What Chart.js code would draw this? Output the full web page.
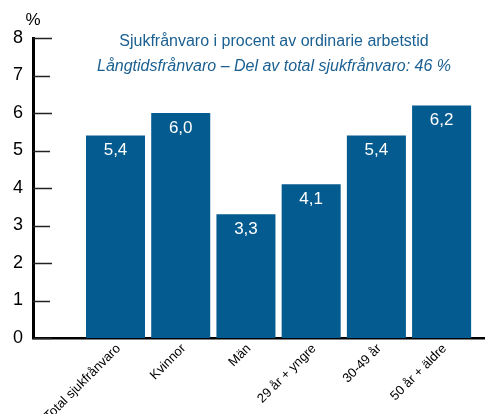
<!DOCTYPE html>
<html>
<head>
<meta charset="utf-8">
<script src="https://cdn.jsdelivr.net/npm/chart.js@4"></script>
<style>
  html, body { margin: 0; padding: 0; background: #fff; }
  #wrap { width: 485px; height: 414px; }
</style>
</head>
<body>
<div id="wrap"><canvas id="Bar-Chart" width="485" height="414"></canvas></div>
<script>
let labels1 = ['Total sjukfrånvaro', 'Kvinnor', 'Män', '29 år + yngre', '30-49 år', '50 år + äldre'];
let data1 = [5.4, 6.0, 3.3, 4.1, 5.4, 6.2];
let yTicks = [0, 1, 2, 3, 4, 5, 6, 7, 8];
let title1 = 'Sjukfrånvaro i procent av ordinarie arbetstid';
let title2 = 'Långtidsfrånvaro – Del av total sjukfrånvaro: 46 %';

let barColor = '#035b8f';
let textBlue = '#1b6092';

// bar labels, inward tick marks, "%" and the two title lines
let extras = {
  id: 'extras',
  afterDatasetsDraw(chart) {
    let ctx = chart.ctx;
    let y = chart.scales.y;
    let area = chart.chartArea;
    ctx.save();

    // tick marks pointing into the plot
    ctx.strokeStyle = '#222';
    ctx.lineWidth = 1.5;
    yTicks.forEach(v => {
      let py = Math.round(y.getPixelForValue(v)) + 0.5;
      ctx.beginPath();
      ctx.moveTo(area.left, py);
      ctx.lineTo(area.left + (v % 2 === 0 ? 19 : 17), py);
      ctx.stroke();
    });

    // value labels inside bars
    ctx.fillStyle = '#fff';
    ctx.font = '17px "Liberation Sans", Arial, sans-serif';
    ctx.textAlign = 'center';
    ctx.textBaseline = 'middle';
    chart.getDatasetMeta(0).data.forEach((bar, i) => {
      ctx.fillText(data1[i].toFixed(1).replace('.', ','), bar.x, bar.y + 15);
    });

    // unit
    ctx.fillStyle = '#000';
    ctx.fillText('%', 33, 20);

    // titles
    ctx.fillStyle = textBlue;
    ctx.font = '16px "Liberation Sans", Arial, sans-serif';
    ctx.fillText(title1, 274, 42);
    ctx.font = 'italic 16px "Liberation Sans", Arial, sans-serif';
    ctx.fillText(title2, 274, 67);
    ctx.restore();
  }
};

let myChart1 = document.getElementById('Bar-Chart').getContext('2d');

let chart1 = new Chart(myChart1, {
  type: 'bar',
  data: {
    datasets: [{
      data: data1.map((v, i) => ({ x: i, y: v })),
      backgroundColor: barColor,
      borderWidth: 0,
      barPercentage: 0.905,
      categoryPercentage: 1.0
    }]
  },
  options: {
    responsive: false,
    animation: false,
    layout: { padding: { top: 38, right: 1, left: 0, bottom: 0 } },
    plugins: {
      legend: { display: false },
      tooltip: { enabled: false }
    },
    scales: {
      x: {
        type: 'linear',
        offset: false,
        min: -1.265,
        max: 5.65,
        afterBuildTicks(scale) {
          scale.ticks = labels1.map((l, i) => ({ value: i }));
        },
        afterFit(scale) { scale.height = 76; },
        grid: { display: false, drawTicks: false, offset: false },
        border: { display: true, color: '#000', width: 2.5 },
        ticks: {
          minRotation: 45,
          maxRotation: 45,
          autoSkip: false,
          padding: 3,
          labelOffset: 3,
          color: '#000',
          font: { family: '"Liberation Sans", Arial, sans-serif', size: 13 },
          callback: v => labels1[v]
        }
      },
      y: {
        min: 0,
        max: 8,
        afterFit(scale) { scale.width = 33; },
        grid: { display: false, drawTicks: false },
        border: { display: true, color: '#000', width: 3 },
        ticks: {
          stepSize: 1,
          padding: 10,
          color: '#000',
          font: { family: '"Liberation Sans", Arial, sans-serif', size: 18 }
        }
      }
    }
  },
  plugins: [extras]
});
</script>
</body>
</html>
